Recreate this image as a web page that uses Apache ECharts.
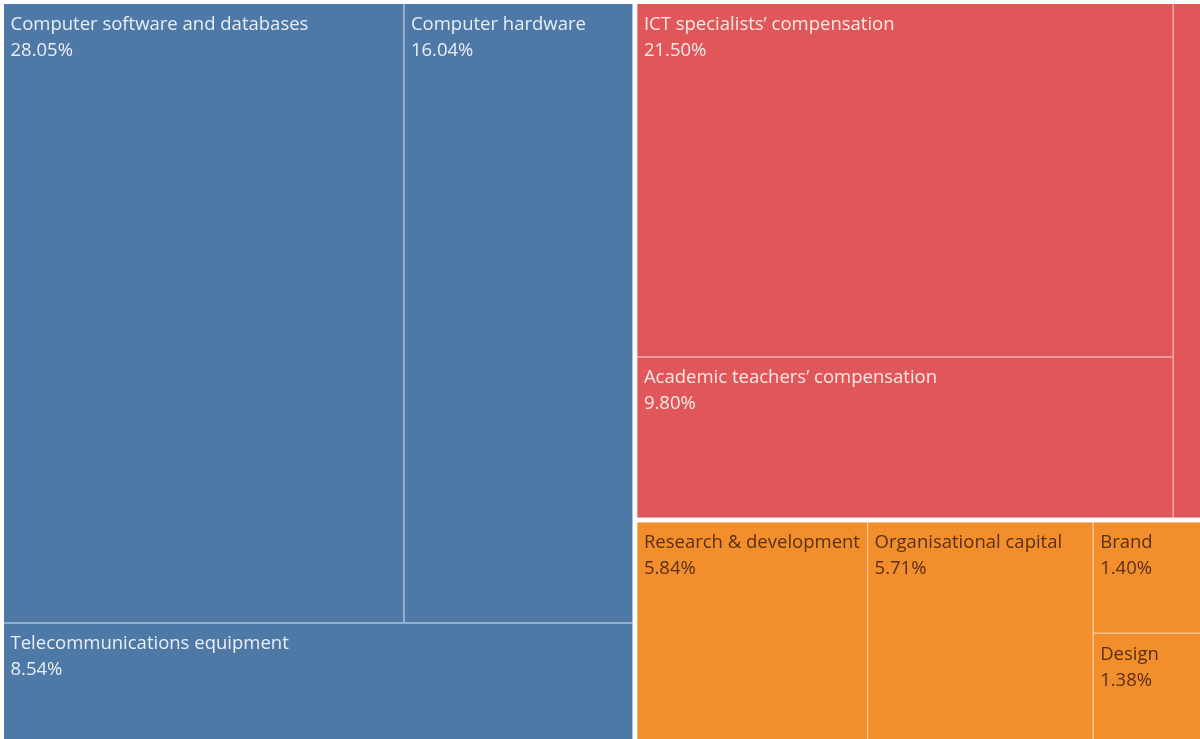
<!DOCTYPE html>
<html>
<head>
<meta charset="utf-8">
<script src="https://cdn.jsdelivr.net/npm/echarts@6/dist/echarts.min.js"></script>
<style>
  html, body { margin: 0; padding: 0; background: #ffffff; }
  #chart { width: 1200px; height: 739px; }
</style>
</head>
<body>
<div id="chart"></div>
<script>
// Shares of total investment (%), grouped by asset type
const groupNames = ['ICT capital', 'Compensation', 'Intangible capital'];

const ictCapitalItems = ['Computer software and databases', 'Computer hardware', 'Telecommunications equipment'];
const ictCapitalShares = [28.05, 16.04, 8.54];

const compensationItems = ['ICT specialists’ compensation', 'Academic teachers’ compensation', 'Other compensation'];
const compensationShares = [21.50, 9.80, 1.74];

const intangibleItems = ['Research & development', 'Organisational capital', 'Brand', 'Design'];
const intangibleShares = [5.84, 5.71, 1.40, 1.38];

// Per-group styling: tile fill, separator line, label colour
const groupStyles = [
  { fill: '#4e79a7', line: '#b9c9dc', text: '#e9eef5' },
  { fill: '#e15759', line: '#f0b3b5', text: '#fbe8e8' },
  { fill: '#f28e2b', line: '#f9cf9f', text: '#5a3018' }
];

function buildGroup(idx, names, values) {
  const st = groupStyles[idx];
  return {
    name: groupNames[idx],
    itemStyle: { color: st.fill, borderColor: st.line, borderWidth: 0, gapWidth: 1 },
    children: names.map((n, i) => {
      const node = {
        name: n,
        value: values[i],
        itemStyle: { color: st.fill },
        label: { color: st.text }
      };
      // the narrow sliver stays unlabeled
      if (n === 'Other compensation') node.label.show = false;
      return node;
    })
  };
}

const treeData = [
  buildGroup(0, ictCapitalItems, ictCapitalShares),
  buildGroup(1, compensationItems, compensationShares),
  buildGroup(2, intangibleItems, intangibleShares)
];

const chart = echarts.init(document.getElementById('chart'), null, { renderer: 'canvas' });

chart.setOption({
  animation: false,
  tooltip: { show: false },
  series: [{
    type: 'treemap',
    left: 4,
    top: 4,
    width: 1198.5,
    height: 738.5,
    roam: false,
    nodeClick: false,
    breadcrumb: { show: false },
    sort: 'desc',
    data: treeData,
    label: {
      show: true,
      position: [1.5, 2.5],
      fontFamily: 'Open Sans',
      fontSize: 18.5,
      lineHeight: 26,
      overflow: 'none',
      formatter: p => p.name + '\n' + p.value.toFixed(2) + '%'
    },
    upperLabel: { show: false },
    levels: [
      { itemStyle: { borderWidth: 0, gapWidth: 5, borderColor: '#ffffff' } },
      { itemStyle: { borderWidth: 0, gapWidth: 1 } },
      { itemStyle: { borderWidth: 0, gapWidth: 0 } }
    ]
  }]
});
</script>
</body>
</html>
